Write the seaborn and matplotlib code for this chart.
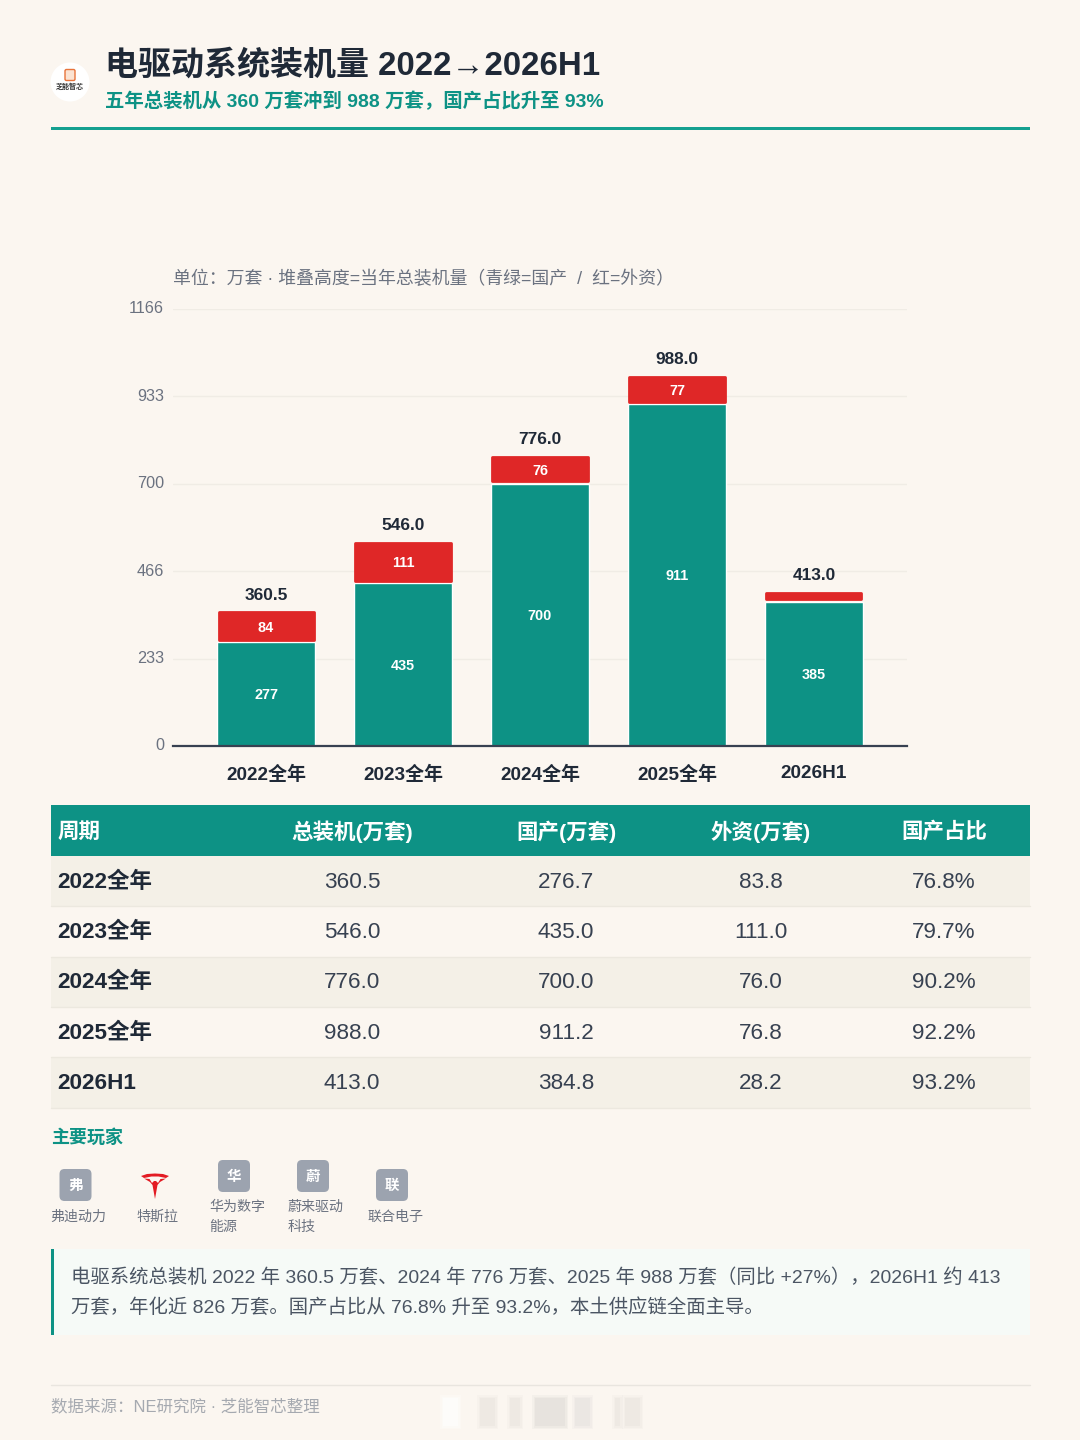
import matplotlib
matplotlib.use("Agg")
import matplotlib.pyplot as plt
import matplotlib.transforms as mtrans
import seaborn as sns
import numpy as np
import pandas as pd
from matplotlib.patches import Rectangle, FancyBboxPatch, Polygon, Circle

periods = ["2022全年", "2023全年", "2024全年", "2025全年", "2026H1"]
totals = [360.5, 546.0, 776.0, 988.0, 413.0]
domestic = [276.7, 435.0, 700.0, 911.2, 384.8]
foreign = [83.8, 111.0, 76.0, 76.8, 28.2]
shares = ["76.8%", "79.7%", "90.2%", "92.2%", "93.2%"]
y_ticks = [0, 233, 466, 700, 933, 1166]
table_heads = ["周期", "总装机(万套)", "国产(万套)", "外资(万套)", "国产占比"]
players = ["弗迪动力", "特斯拉", "华为数字\n能源", "蔚来驱动\n科技", "联合电子"]
badges = ["弗", None, "华", "蔚", "联"]

BG = "#FBF6F0"; TEAL = "#0D9285"; RED = "#DF2727"; DARK = "#1F2937"; GRAY = "#6B7280"
FONT = ["Liberation Sans", "Noto Sans CJK SC", "DejaVu Sans"]

sns.set_theme(style="white")
plt.rcParams["font.family"] = FONT
plt.rcParams["axes.unicode_minus"] = False

fig = plt.figure(figsize=(10.8, 14.4), dpi=100, facecolor=BG)
P = fig.add_axes([0, 0, 1, 1], facecolor="none")
P.set_xlim(0, 1080); P.set_ylim(1440, 0); P.axis("off")

def T(x, y, s, size, color=DARK, weight="normal", ha="left", va="center", **k):
    return P.text(x, y, s, fontsize=size * 0.72, color=color, fontweight=weight, ha=ha, va=va, **k)

# header
T(105, 65.5, "电驱动系统装机量 2022→2026H1", 33, "#1F2937", "bold")
T(105, 101, "五年总装机从 360 万套冲到 988 万套，国产占比升至 93%", 19.4, TEAL, "bold")
P.add_patch(Rectangle((51, 127), 979, 2.6, color="#14A090", lw=0))
P.add_patch(Circle((70, 82), 19.5, color="#FFFFFF", lw=0))
P.add_patch(FancyBboxPatch((65, 69.5), 10, 11, boxstyle="round,pad=0,rounding_size=1.5", fc="#FBE3D2", ec="#E8743B", lw=1))
T(70, 87, "芝能智芯", 7, "#333333", "bold", ha="center")

# chart
df = pd.DataFrame({"period": periods, "domestic": domestic, "foreign": foreign})
ax = fig.add_axes([173 / 1080, 1 - 746 / 1440, 734 / 1080, 437 / 1440], facecolor="none")
sns.barplot(data=df, x="period", y="domestic", color=TEAL, saturation=1, width=98 / 137, ax=ax, zorder=3)
n_d = len(ax.patches)
sns.barplot(data=df, x="period", y="foreign", bottom=np.array(domestic), color=RED, saturation=1,
            width=95.2 / 137, ax=ax, zorder=3, linewidth=2, edgecolor=RED)
for p in ax.patches[n_d:]:
    p.set_joinstyle("round")
    p.set_y(p.get_y() + 6.4); p.set_height(max(p.get_height() - 10.1, 1))
ax.set_xlim(-0.68, 4.68); ax.set_ylim(0, 1166)
ax.set_yticks(y_ticks)
ax.set_yticklabels([str(v) for v in y_ticks], fontsize=11.7, color=GRAY)
ax.set_xticks(range(5))
ax.set_xticklabels(periods, fontsize=13.7, color="#1F2937", fontweight="bold")
ax.tick_params(axis="both", length=0)
ax.tick_params(axis="y", pad=6.5)
ax.tick_params(axis="x", pad=14)
up = mtrans.ScaledTranslation(0, 1.2 / 72, fig.dpi_scale_trans)
for lab in ax.get_yticklabels():
    lab.set_transform(lab.get_transform() + up)
ax.set_xlabel(""); ax.set_ylabel("")
ax.grid(axis="y", color="#F0ECE5", lw=1, zorder=0); ax.set_axisbelow(True)
for s in ["top", "left", "right"]:
    ax.spines[s].set_visible(False)
ax.spines["bottom"].set_color("#374151"); ax.spines["bottom"].set_linewidth(1.6); ax.spines["bottom"].set_zorder(5)
for i in range(5):
    ax.annotate(f"{totals[i]:.1f}", (i, totals[i]), xytext=(0, 6), textcoords="offset points", ha="center", va="bottom",
                fontsize=12.4, color="#1F2937", fontweight="bold")
    ax.text(i, domestic[i] / 2 - 3, f"{domestic[i]:.0f}", ha="center", va="center", fontsize=10.4, color="white", fontweight="bold", zorder=6)
    if foreign[i] > 40:
        ax.text(i, domestic[i] + foreign[i] / 2 - 3, f"{foreign[i]:.0f}", ha="center", va="center", fontsize=10.4, color="white", fontweight="bold", zorder=6)
T(173, 279, "单位：万套 · 堆叠高度=当年总装机量（青绿=国产  /  红=外资）", 17.9, GRAY)

# table
col_x = [57.5, 352, 566, 761, 944]
P.add_patch(Rectangle((51, 805), 979, 51, color=TEAL, lw=0))
for j, h in enumerate(table_heads):
    T(col_x[j], 831.5, h, 21.5, "white", "bold", ha="left" if j == 0 else "center")
for i in range(5):
    top = 856 + i * 50.3
    if i % 2 == 0:
        P.add_patch(Rectangle((51, top), 979, 50.3, color="#F4F0E7", lw=0))
    P.plot([51, 1030], [top + 50.3, top + 50.3], color="#ECE8DF", lw=1)
    cy = top + 26.2
    T(col_x[0], cy, periods[i], 22.5, "#1F2937", "bold")
    vals = [f"{totals[i]:.1f}", f"{domestic[i]:.1f}", f"{foreign[i]:.1f}", shares[i]]
    for j, v in enumerate(vals):
        T(col_x[j + 1], cy, v, 22.5, "#374151", ha="center")

# players
T(51, 1138, "主要玩家", 18, TEAL, "bold")
px = [75.5, 155, 234, 313, 392]
tx = [78, 157, 209, 288, 395]
for i, name in enumerate(players):
    two = "\n" in name
    by = 1176 if two else 1185
    if badges[i]:
        P.add_patch(FancyBboxPatch((px[i] - 16, by - 16), 32, 32, boxstyle="round,pad=0,rounding_size=5", fc="#9CA3AF", lw=0))
        T(px[i], by + 1, badges[i], 14.5, "white", "bold", ha="center")
    if two:
        for k, line in enumerate(name.split("\n")):
            T(tx[i], 1207 + k * 20, line, 14, GRAY)
    else:
        T(tx[i], 1216.5, name, 14, GRAY, ha="center")
# Tesla mark
P.add_patch(Polygon([(141, 1176), (147, 1174), (155, 1173.5), (163, 1174), (169, 1176), (166, 1178), (158.5, 1176.5), (151.5, 1176.5), (144, 1178)], color="#E31B23", lw=0))
P.add_patch(Polygon([(144, 1178.5), (149.5, 1179), (152, 1183), (154, 1181), (156, 1181), (158, 1183), (160.5, 1179), (166, 1178.5), (160, 1182), (157.5, 1185), (155, 1199), (152.5, 1185), (150, 1182)], color="#E31B23", lw=0))

# note
P.add_patch(Rectangle((51, 1249), 979, 86, color="#F6FAF7", lw=0))
P.add_patch(Rectangle((51, 1249), 3, 86, color=TEAL, lw=0))
T(71, 1278, "电驱系统总装机 2022 年 360.5 万套、2024 年 776 万套、2025 年 988 万套（同比 +27%），2026H1 约 413", 19.35, "#4B5563")
T(71, 1308, "万套，年化近 826 万套。国产占比从 76.8% 升至 93.2%，本土供应链全面主导。", 19.35, "#4B5563")

# footer
P.plot([51, 1030], [1385, 1385], color="#E9E5DF", lw=1)
T(51, 1406, "数据来源：NE研究院 · 芝能智芯整理", 16.5, "#A5A9B0")
for x0, w, c, a in [(443, 15, "#FFFFFF", 1), (480, 15, "#DDDAD6", .5), (510, 10, "#DDDAD6", .5),
                    (535, 30, "#D8D5D1", .7), (575, 15, "#DDDAD6", .6), (615, 5, "#DDDAD6", .5), (625, 15, "#DDDAD6", .5)]:
    for g, aa in [(3, .25), (1.5, .3), (0, .45)]:
        P.add_patch(Rectangle((x0 - g, 1398 - g), w + 2 * g, 28 + 2 * g, color=c, alpha=a * aa, lw=0))

fig.savefig("out.png", dpi=100, facecolor=BG)
